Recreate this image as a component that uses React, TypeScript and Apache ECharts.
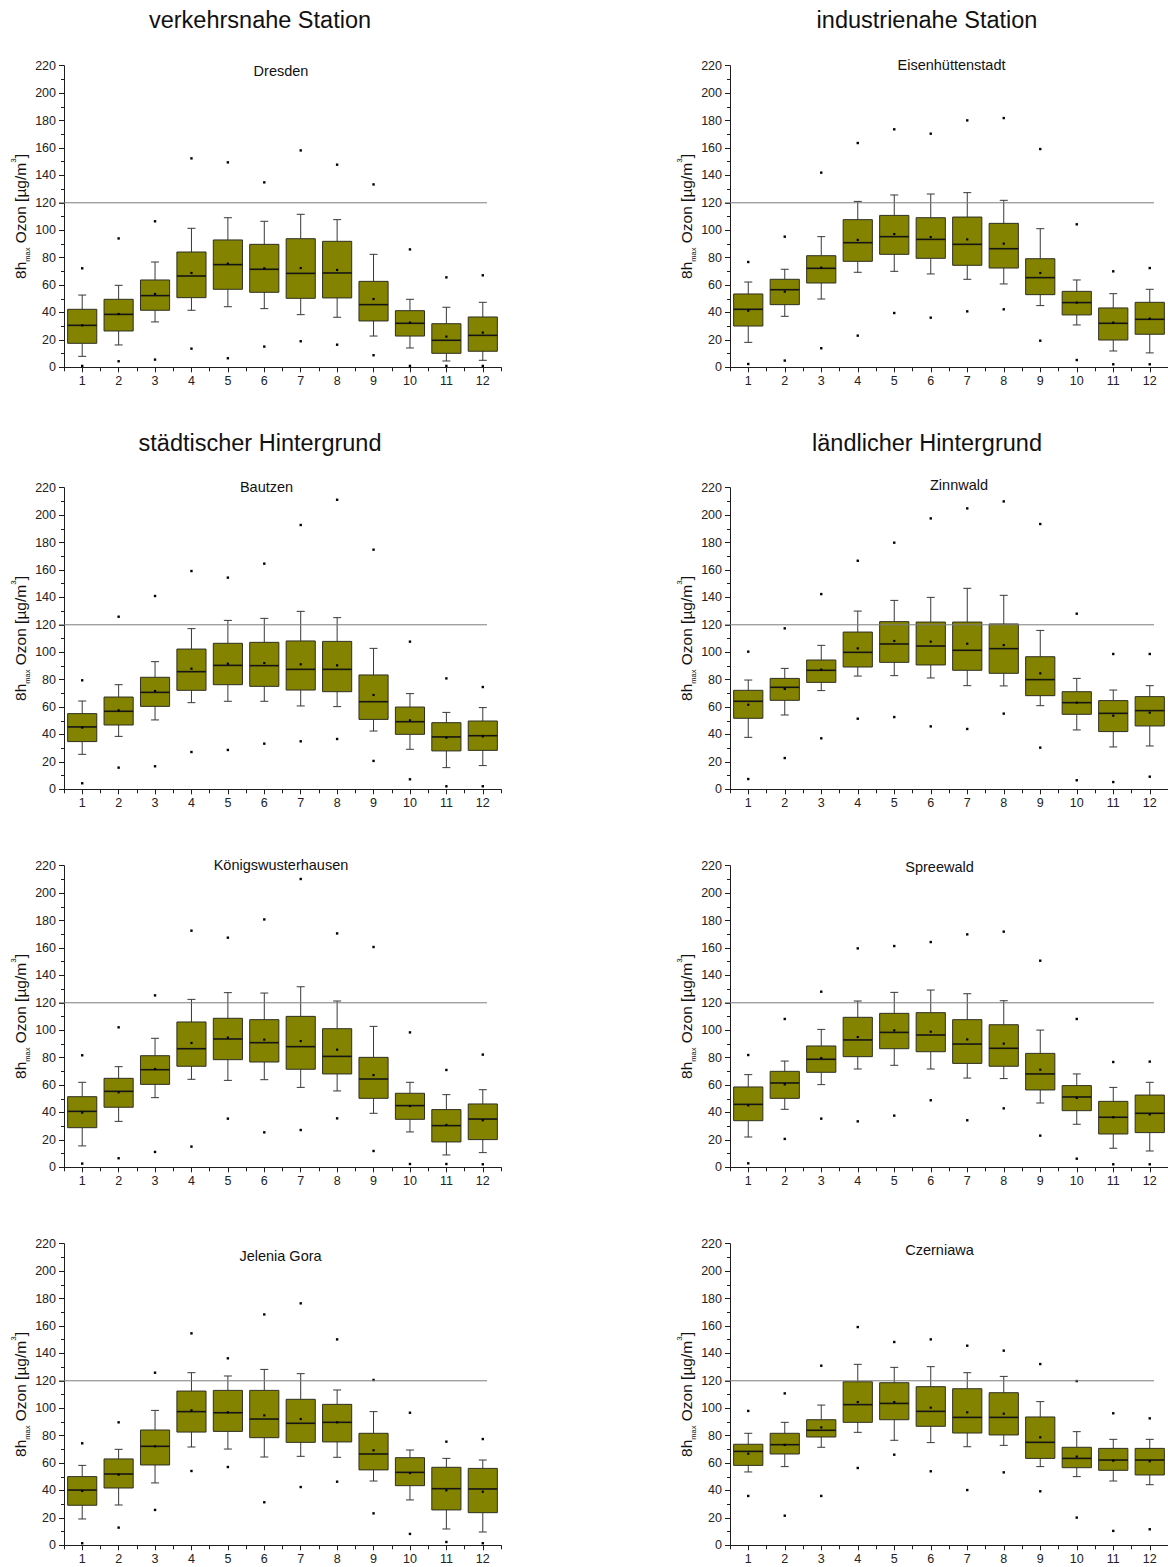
import React, { useEffect, useRef } from "react";
import * as echarts from "echarts";

const months = ["1", "2", "3", "4", "5", "6", "7", "8", "9", "10", "11", "12"];

// One row per month: [lower whisker, Q1, median, Q3, upper whisker, mean, min, max]
const dresden = [
  [8.0, 17.5, 30.6, 42.3, 52.7, 30.6, 1.0, 72.2],
  [16.3, 26.5, 38.6, 49.6, 59.8, 38.9, 4.4, 94.0],
  [33.1, 41.6, 52.3, 63.7, 76.8, 53.5, 5.6, 106.5],
  [41.6, 50.8, 66.6, 84.1, 101.4, 68.8, 13.6, 152.4],
  [44.2, 56.9, 74.9, 92.9, 109.1, 75.6, 6.6, 149.5],
  [42.8, 54.7, 71.5, 89.7, 106.5, 72.2, 15.1, 134.9],
  [38.4, 50.3, 68.5, 93.8, 111.6, 72.4, 19.0, 158.2],
  [36.5, 50.6, 68.8, 91.9, 107.7, 71.0, 16.5, 147.8],
  [22.8, 33.8, 45.7, 62.7, 82.4, 49.8, 8.8, 133.4],
  [14.1, 22.8, 32.1, 41.3, 49.6, 32.6, 1.0, 86.0],
  [4.6, 10.2, 19.7, 31.8, 43.8, 22.4, 1.0, 65.6],
  [5.1, 11.7, 23.3, 36.7, 47.4, 25.3, 1.0, 67.1],
];

const eisenhuettenstadt = [
  [18.2, 30.1, 42.3, 53.5, 62.2, 41.3, 2.4, 76.8],
  [37.2, 45.7, 56.6, 64.2, 71.5, 55.2, 4.9, 95.3],
  [49.8, 61.5, 72.2, 81.4, 95.3, 72.7, 13.9, 142.0],
  [69.3, 77.3, 90.9, 107.7, 121.0, 92.9, 23.1, 163.6],
  [70.0, 82.4, 95.3, 110.8, 125.7, 97.2, 39.6, 173.6],
  [68.1, 79.5, 93.3, 109.1, 126.4, 95.0, 36.2, 170.4],
  [64.2, 74.4, 89.7, 109.6, 127.4, 93.3, 40.8, 180.1],
  [60.8, 72.4, 86.5, 105.0, 121.8, 90.2, 42.3, 181.8],
  [45.0, 53.0, 65.4, 79.2, 101.1, 68.8, 19.4, 159.2],
  [30.9, 38.2, 47.2, 55.4, 63.7, 47.2, 5.3, 104.3],
  [11.9, 19.9, 32.1, 43.3, 53.7, 32.6, 2.2, 70.0],
  [10.5, 24.1, 35.0, 47.4, 56.9, 35.5, 2.2, 72.4],
];

const bautzen = [
  [25.5, 34.8, 45.5, 55.2, 64.4, 45.0, 4.4, 79.5],
  [38.6, 46.9, 56.9, 67.3, 76.3, 57.6, 15.8, 125.9],
  [50.6, 60.5, 70.7, 81.7, 93.1, 71.7, 16.8, 141.0],
  [63.2, 72.2, 85.8, 102.3, 117.2, 88.0, 27.2, 159.2],
  [64.2, 76.3, 90.4, 106.5, 123.2, 91.6, 28.7, 154.4],
  [64.2, 75.1, 90.2, 107.2, 124.7, 92.1, 33.3, 164.6],
  [60.8, 72.4, 87.5, 108.2, 129.8, 91.2, 35.0, 192.8],
  [60.3, 71.2, 87.5, 107.9, 125.2, 90.4, 36.7, 211.2],
  [42.5, 51.0, 63.9, 83.4, 102.8, 68.8, 20.7, 174.8],
  [29.2, 40.1, 49.3, 60.0, 69.8, 50.3, 7.3, 107.7],
  [15.8, 28.0, 38.2, 48.6, 56.1, 37.7, 2.2, 80.9],
  [17.3, 28.4, 39.1, 49.8, 59.6, 38.6, 2.2, 74.6],
];

const zinnwald = [
  [37.9, 51.8, 64.2, 72.2, 79.7, 61.7, 7.5, 100.4],
  [54.2, 64.9, 74.4, 80.9, 88.2, 73.2, 22.8, 117.4],
  [72.0, 78.0, 86.8, 94.3, 105.0, 87.3, 37.2, 142.4],
  [82.6, 89.2, 99.9, 114.7, 130.0, 102.8, 51.5, 166.7],
  [82.9, 92.6, 106.0, 122.3, 137.8, 108.2, 52.7, 179.9],
  [81.2, 90.7, 104.5, 122.0, 140.0, 107.7, 45.9, 197.6],
  [75.6, 86.8, 101.4, 122.0, 146.6, 106.2, 44.0, 204.9],
  [75.4, 84.6, 102.6, 120.6, 141.5, 105.2, 55.2, 210.0],
  [61.0, 68.3, 80.0, 96.7, 115.9, 84.6, 30.4, 193.5],
  [43.3, 54.7, 63.2, 71.2, 80.9, 63.2, 6.6, 128.1],
  [30.9, 42.1, 55.4, 64.7, 72.4, 53.7, 5.3, 98.7],
  [31.6, 46.2, 57.4, 67.6, 75.6, 55.9, 9.2, 98.7],
];

const koenigswusterhausen = [
  [15.6, 28.9, 40.8, 51.5, 62.0, 39.9, 2.7, 81.7],
  [33.5, 43.8, 55.4, 64.9, 73.4, 54.7, 6.6, 102.1],
  [50.8, 60.5, 71.2, 81.4, 94.1, 71.7, 11.2, 125.4],
  [64.2, 73.7, 86.5, 106.0, 122.5, 90.7, 15.1, 172.6],
  [63.4, 78.5, 93.6, 108.7, 127.4, 94.6, 35.5, 167.5],
  [63.9, 76.8, 90.9, 107.7, 127.1, 93.1, 25.5, 180.8],
  [58.3, 71.5, 88.0, 110.1, 131.7, 92.1, 27.2, 210.3],
  [55.7, 68.1, 80.9, 101.1, 121.3, 85.8, 35.7, 170.6],
  [39.4, 50.3, 64.4, 80.2, 102.8, 67.3, 11.9, 160.7],
  [25.8, 35.0, 45.0, 54.0, 62.0, 44.7, 2.4, 98.4],
  [9.0, 18.5, 30.4, 42.1, 53.0, 30.9, 2.4, 71.0],
  [10.7, 20.2, 35.2, 46.2, 56.6, 34.3, 2.2, 82.2],
];

const spreewald = [
  [22.1, 34.0, 45.9, 58.6, 67.6, 45.2, 2.9, 81.9],
  [42.3, 50.3, 61.5, 70.0, 77.5, 60.5, 20.7, 108.2],
  [60.3, 69.3, 78.8, 88.5, 100.6, 79.7, 35.5, 128.1],
  [71.7, 80.7, 92.9, 109.4, 121.3, 95.0, 33.5, 159.7],
  [74.4, 86.5, 98.4, 112.3, 127.6, 99.9, 37.7, 161.4],
  [71.7, 84.3, 96.5, 112.8, 129.3, 98.9, 48.9, 164.3],
  [65.1, 75.8, 89.9, 107.7, 126.6, 93.3, 34.3, 169.9],
  [64.7, 73.7, 86.8, 104.0, 121.5, 90.2, 43.0, 171.9],
  [46.9, 56.4, 68.1, 83.1, 100.1, 71.2, 23.1, 150.7],
  [31.4, 41.3, 51.3, 59.6, 68.1, 50.6, 6.3, 108.2],
  [13.9, 24.3, 36.5, 48.1, 58.3, 36.5, 2.2, 76.8],
  [11.9, 25.3, 39.4, 52.7, 62.0, 38.6, 2.2, 77.1],
];

const jeleniaGora = [
  [19.2, 29.2, 40.3, 50.1, 58.3, 39.6, 1.5, 74.4],
  [29.4, 41.8, 52.0, 63.0, 70.0, 51.5, 12.9, 89.7],
  [45.5, 58.6, 72.2, 84.1, 98.4, 72.2, 25.8, 125.9],
  [71.7, 82.6, 97.5, 112.5, 125.9, 98.4, 54.2, 154.6],
  [70.2, 83.1, 96.7, 113.0, 123.5, 97.0, 57.1, 136.4],
  [64.4, 78.5, 92.1, 113.0, 128.3, 94.8, 31.4, 168.4],
  [64.9, 75.1, 89.0, 106.5, 125.2, 92.1, 42.5, 176.5],
  [64.2, 75.4, 89.7, 102.8, 113.3, 89.7, 46.4, 150.2],
  [46.9, 55.0, 66.6, 81.7, 97.5, 69.3, 23.3, 120.6],
  [33.1, 43.5, 53.2, 63.9, 69.5, 52.7, 8.3, 96.7],
  [11.9, 25.8, 41.3, 56.9, 63.4, 40.1, 2.4, 75.6],
  [9.7, 23.8, 41.1, 56.1, 62.2, 39.1, 1.5, 77.5],
];

const czerniawa = [
  [53.5, 58.3, 68.5, 73.7, 81.7, 66.8, 36.0, 98.0],
  [57.4, 66.6, 73.4, 81.7, 89.7, 73.2, 21.6, 110.8],
  [71.5, 79.0, 83.9, 91.6, 102.3, 86.0, 36.0, 131.0],
  [82.4, 89.7, 102.6, 119.3, 132.0, 104.5, 56.4, 159.2],
  [76.6, 91.6, 103.5, 118.6, 129.8, 104.5, 66.1, 148.3],
  [74.9, 86.8, 97.7, 115.7, 130.3, 100.4, 54.0, 150.2],
  [71.9, 81.9, 93.3, 114.2, 125.9, 97.0, 40.3, 145.6],
  [72.9, 80.5, 93.3, 111.3, 123.2, 96.0, 53.2, 142.0],
  [57.4, 63.4, 75.1, 93.6, 104.8, 78.8, 39.4, 132.2],
  [50.1, 56.6, 63.4, 71.5, 82.9, 64.7, 20.2, 119.8],
  [46.9, 54.7, 62.2, 70.7, 77.3, 61.7, 10.5, 96.3],
  [44.2, 51.3, 62.2, 70.7, 77.3, 61.3, 11.7, 92.6],
];

const targetValue = 120; // 8-hour ozone target value

const sectionTitles = [
  "verkehrsnahe Station",
  "industrienahe Station",
  "städtischer Hintergrund",
  "ländlicher Hintergrund",
];

// Panel layout: station name, its data, grid position and title anchor
const panels = [
  { name: "Dresden", rows: dresden, left: 64, top: 65.7, width: 437, tx: 281, ty: 71 },
  { name: "Eisenhüttenstadt", rows: eisenhuettenstadt, left: 730, top: 65.7, width: 438, tx: 951.5, ty: 65 },
  { name: "Bautzen", rows: bautzen, left: 64, top: 487.7, width: 437, tx: 266.5, ty: 486.5 },
  { name: "Zinnwald", rows: zinnwald, left: 730, top: 487.7, width: 438, tx: 959, ty: 484.5 },
  { name: "Königswusterhausen", rows: koenigswusterhausen, left: 64, top: 865.7, width: 437, tx: 281, ty: 864.5 },
  { name: "Spreewald", rows: spreewald, left: 730, top: 865.7, width: 438, tx: 939.5, ty: 866.5 },
  { name: "Jelenia Gora", rows: jeleniaGora, left: 64, top: 1243.7, width: 437, tx: 280.5, ty: 1255.5 },
  { name: "Czerniawa", rows: czerniawa, left: 730, top: 1243.7, width: 438, tx: 939.5, ty: 1249.5 },
];

const sectionAnchors = [
  { x: 260, y: 20 },
  { x: 927, y: 20 },
  { x: 260, y: 443 },
  { x: 927, y: 443 },
];

const PLOT_HEIGHT = 301.6;
const FONT = 'Arial, "Liberation Sans", sans-serif';
const OLIVE = "#838300";
const INK = "#1e1e1e";

function renderBox(_params: any, api: any) {
  const i = api.value(0);
  const at = (k: number) => api.coord([i, api.value(k)]);
  const lo = at(1);
  const q1 = at(2);
  const md = at(3);
  const q3 = at(4);
  const hi = at(5);
  const mean = at(6);
  const mn = at(7);
  const mx = at(8);
  const band = api.size([1, 0])[0];
  const bw = band * 0.8;
  const x = md[0];
  const cap = 4;
  const whisker = { stroke: "#383838", lineWidth: 1, fill: "none" };
  const dot = (p: number[], s: number) => ({
    type: "rect",
    shape: { x: p[0] - s / 2, y: p[1] - s / 2, width: s, height: s },
    style: { fill: "#000" },
  });
  return {
    type: "group",
    children: [
      { type: "line", shape: { x1: x, y1: hi[1], x2: x, y2: q3[1] }, style: whisker },
      { type: "line", shape: { x1: x, y1: q1[1], x2: x, y2: lo[1] }, style: whisker },
      { type: "line", shape: { x1: x - cap, y1: hi[1], x2: x + cap, y2: hi[1] }, style: whisker },
      { type: "line", shape: { x1: x - cap, y1: lo[1], x2: x + cap, y2: lo[1] }, style: whisker },
      {
        type: "rect",
        shape: { x: x - bw / 2, y: q3[1], width: bw, height: q1[1] - q3[1] },
        style: { fill: OLIVE, stroke: "#2f2f22", lineWidth: 1 },
      },
      {
        type: "line",
        shape: { x1: x - bw / 2, y1: md[1], x2: x + bw / 2, y2: md[1] },
        style: { stroke: "#151515", lineWidth: 1.6 },
      },
      dot(mean, 2.2),
      dot(mn, 2.4),
      dot(mx, 2.4),
    ],
  };
}

function renderTargetLine(params: any, api: any) {
  const cs = params.coordSys;
  const y = api.coord([0, api.value(1)])[1];
  return {
    type: "line",
    shape: { x1: cs.x - 5, y1: y, x2: cs.x + cs.width - 14, y2: y },
    style: { stroke: "#7c7c7c", lineWidth: 1 },
  };
}

function buildOption() {
  const grid: any[] = [];
  const xAxis: any[] = [];
  const yAxis: any[] = [];
  const series: any[] = [];
  const graphic: any[] = [];

  panels.forEach((p, g) => {
    grid.push({ left: p.left, top: p.top, width: p.width, height: PLOT_HEIGHT });

    // month axis with labels and centred ticks
    xAxis.push({
      type: "category",
      gridIndex: g,
      data: months,
      position: "bottom",
      boundaryGap: true,
      axisLine: { show: true, lineStyle: { color: INK, width: 1 } },
      axisTick: { show: true, alignWithLabel: true, length: 5, lineStyle: { color: INK } },
      axisLabel: { fontFamily: FONT, fontSize: 12.5, color: "#222", margin: 7 },
      splitLine: { show: false },
    });
    // companion axis carrying the ticks between months
    xAxis.push({
      type: "category",
      gridIndex: g,
      data: months,
      position: "bottom",
      boundaryGap: true,
      axisLine: { show: false },
      axisTick: { show: true, alignWithLabel: false, length: 4, lineStyle: { color: INK } },
      axisLabel: { show: false },
      splitLine: { show: false },
    });

    yAxis.push({
      type: "value",
      gridIndex: g,
      min: 0,
      max: 220,
      interval: 20,
      axisLine: { show: true, lineStyle: { color: INK, width: 1 } },
      axisTick: { show: true, length: 5, lineStyle: { color: INK } },
      minorTick: { show: true, splitNumber: 2, length: 3, lineStyle: { color: INK } },
      splitLine: { show: false },
      minorSplitLine: { show: false },
      axisLabel: { fontFamily: FONT, fontSize: 12.5, color: "#222", margin: 8 },
      name: "{a|8h}{s|max}{a| Ozon [µg/m}{p|3}{a|]}",
      nameLocation: "middle",
      nameRotate: 90,
      nameGap: 33,
      nameTextStyle: {
        fontFamily: FONT,
        color: "#111",
        rich: {
          a: { fontFamily: FONT, fontSize: 15.5, color: "#111", lineHeight: 22 },
          s: { fontFamily: FONT, fontSize: 7.5, color: "#111", lineHeight: 22, verticalAlign: "bottom" },
          p: { fontFamily: FONT, fontSize: 8, color: "#111", lineHeight: 22, verticalAlign: "top" },
        },
      },
    });

    series.push({
      type: "custom",
      name: p.name,
      xAxisIndex: g * 2,
      yAxisIndex: g,
      renderItem: renderBox,
      encode: { x: 0, y: [1, 2, 3, 4, 5, 6, 7, 8] },
      data: p.rows.map((r, i) => [i, ...r]),
      clip: false,
      z: 2,
    });
    series.push({
      type: "custom",
      xAxisIndex: g * 2,
      yAxisIndex: g,
      renderItem: renderTargetLine,
      encode: { x: 0, y: 1 },
      data: [[0, targetValue]],
      clip: false,
      silent: true,
      z: 3,
    });

    graphic.push({
      type: "text",
      x: p.tx,
      y: p.ty,
      style: {
        text: p.name,
        font: `14.5px ${FONT}`,
        fill: "#111",
        align: "center",
        verticalAlign: "middle",
        textAlign: "center",
        textVerticalAlign: "middle",
      },
    });
  });

  sectionTitles.forEach((t, k) => {
    graphic.push({
      type: "text",
      x: sectionAnchors[k].x,
      y: sectionAnchors[k].y,
      style: {
        text: t,
        font: `23.5px ${FONT}`,
        fill: "#111",
        align: "center",
        verticalAlign: "middle",
        textAlign: "center",
        textVerticalAlign: "middle",
      },
    });
  });

  return {
    animation: false,
    backgroundColor: "#ffffff",
    grid,
    xAxis,
    yAxis,
    series,
    graphic,
  };
}

export default function App() {
  const ref = useRef<HTMLDivElement>(null);

  useEffect(() => {
    if (!ref.current) return;
    const chart = echarts.init(ref.current, undefined, { renderer: "svg" });
    chart.setOption(buildOption() as any);
    return () => chart.dispose();
  }, []);

  return (
    <div
      ref={ref}
      style={{
        position: "absolute",
        left: 0,
        top: 0,
        width: 1168,
        height: 1567,
        background: "#fff",
      }}
    />
  );
}
